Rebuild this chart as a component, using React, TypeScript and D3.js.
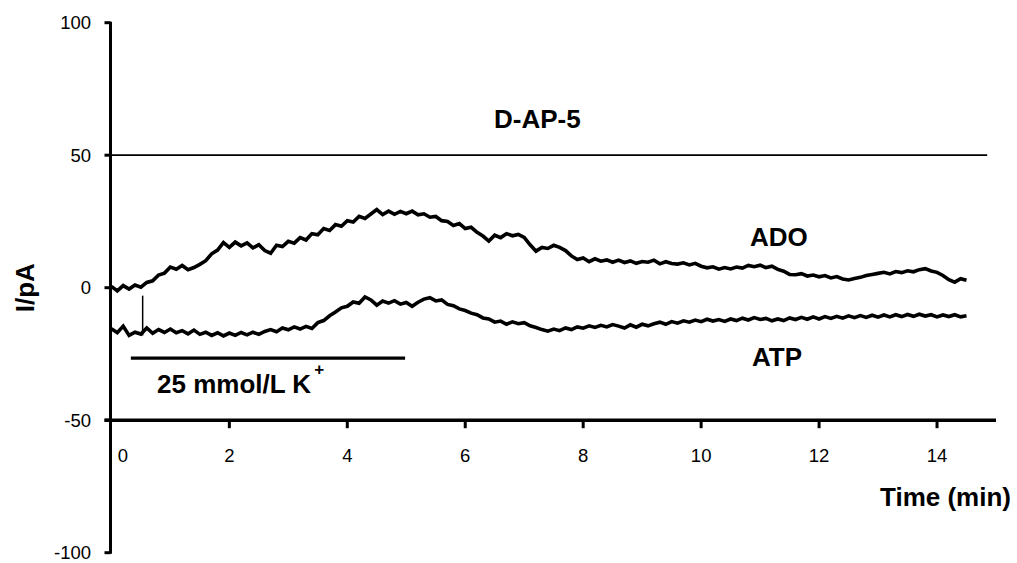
import React from "react";
import * as d3 from "d3";

// ---- data ----
const sampleStep = 0.1; // min
const adoValues = [
  0.5, -1.2, 0.8, -0.5, 1.0, 0.2, 2.0, 2.6, 4.8, 5.5,
  7.8, 7.0, 8.4, 6.8, 7.6, 8.8, 10.2, 12.8, 14.2, 17.0,
  15.2, 17.2, 15.8, 16.9, 15.0, 16.2, 14.0, 13.0, 16.0, 15.5,
  17.5, 16.8, 18.9, 18.0, 20.4, 20.0, 22.3, 21.6, 23.8, 23.2,
  25.3, 24.8, 26.9, 26.1, 27.8, 29.5, 27.6, 28.9, 27.7, 28.8,
  27.9, 28.9, 27.5, 27.9, 26.6, 26.9, 25.3, 25.0, 23.5, 24.2,
  22.3, 22.8, 20.9, 19.5, 17.6, 19.8, 18.9, 20.4, 19.6, 20.1,
  19.0, 16.2, 13.8, 15.2, 14.8, 16.0, 15.2, 14.0, 12.0, 10.6,
  11.2, 9.8, 10.9, 10.0, 10.5, 9.6, 10.4, 9.5, 10.1, 9.2,
  9.9, 9.6, 10.4, 9.0, 9.8, 9.1, 8.9, 9.4, 8.6, 9.2,
  8.1, 7.5, 7.9, 7.0, 7.6, 7.1, 7.8, 7.4, 8.4, 7.9,
  8.5, 7.6, 8.1, 6.9, 6.2, 5.0, 4.9, 5.3, 4.4, 4.8,
  4.1, 4.6, 3.7, 4.2, 3.3, 2.9, 3.5, 3.9, 4.6, 5.0,
  5.4, 5.8, 5.2, 6.1, 5.7, 6.4, 6.0, 6.8, 7.2, 6.3,
  5.8, 4.6, 3.0, 2.1, 3.4, 2.8,
];
const atpValues = [
  -15.5, -17.0, -14.5, -18.0, -16.8, -17.5, -15.2, -17.2, -15.8, -16.9,
  -15.6, -17.0, -16.2, -17.4, -16.0, -17.6, -16.8, -18.0, -17.0, -18.2,
  -17.1, -18.0, -16.9, -17.8, -16.8, -17.6, -16.5, -15.8, -16.6, -15.2,
  -15.9, -14.8, -15.6, -14.6, -15.4, -13.2, -12.4, -10.6, -9.2, -7.6,
  -7.0, -5.4, -5.9, -3.5, -4.6, -6.6, -5.0, -5.8, -4.9, -6.2,
  -5.6, -7.0, -5.5, -4.3, -3.8, -5.0, -4.6, -6.3, -6.8, -8.0,
  -8.6, -9.6, -10.2, -11.4, -11.8, -13.0, -12.6, -13.8, -12.9, -13.6,
  -13.2, -14.4, -15.0, -15.8, -16.4, -15.6, -16.2, -15.2, -15.8, -14.8,
  -15.3, -14.4, -15.0, -14.2, -14.8, -13.9, -14.5, -15.2, -14.0, -14.9,
  -13.8, -14.4, -13.6, -13.0, -13.8, -12.8, -13.4, -12.5, -13.0, -12.2,
  -12.8, -11.9, -12.6, -12.0, -12.7, -11.8, -12.4, -11.5, -12.2, -11.3,
  -12.0, -11.6, -12.5, -11.8, -12.4, -11.4, -12.0, -11.2, -11.9, -11.0,
  -11.8, -10.9, -11.6, -10.8, -11.5, -10.6, -11.3, -10.5, -11.2, -10.4,
  -11.1, -10.3, -11.0, -10.2, -10.9, -10.1, -10.8, -10.0, -10.7, -10.2,
  -11.0, -10.3, -10.9, -10.2, -11.0, -10.6,
];
const atpArtifactTime = [0.53, 0.53];
const atpArtifactValues = [-18, -3];
const dap5Time = [0, 14.85];
const dap5Values = [50, 50];
const kBarTime = [0.33, 4.98];
const kBarValues = [-26.6, -26.6];
const xTicks = [0, 2, 4, 6, 8, 10, 12, 14];
const yTicks = [-100, -50, 0, 50, 100];

const W = 1017;
const H = 563;
const FONT = "Arial, 'Liberation Sans', sans-serif";

export default function App() {
  const x = d3.scaleLinear().domain([0, 15]).range([111.4, 996]);
  const y = d3.scaleLinear().domain([-100, 100]).range([552.7, 22.7]);
  const axisX = x(0) - 0.9;
  const axisY = y(-50);

  const series = (vals: number[]) =>
    vals.map((v, i) => [i * sampleStep, v] as [number, number]);
  const pairs = (t: number[], v: number[]) =>
    t.map((ti, i) => [ti, v[i]] as [number, number]);

  const line = d3
    .line<[number, number]>()
    .x((d) => x(d[0]))
    .y((d) => y(d[1]))
    .curve(d3.curveLinear);

  return (
    <svg
      width={W}
      height={H}
      style={{ position: "absolute", left: 0, top: 0, background: "#fff" }}
      fontFamily={FONT}
    >
      <rect x={0} y={0} width={W} height={H} fill="#fff" />

      {/* D-AP-5 baseline */}
      <path d={line(pairs(dap5Time, dap5Values)) || ""} stroke="#000" strokeWidth={1.8} fill="none" />

      {/* traces */}
      <path d={line(series(adoValues)) || ""} stroke="#000" strokeWidth={3.6} fill="none" strokeLinejoin="miter" />
      <path d={line(series(atpValues)) || ""} stroke="#000" strokeWidth={3.6} fill="none" strokeLinejoin="miter" />
      <path d={line(pairs(atpArtifactTime, atpArtifactValues)) || ""} stroke="#000" strokeWidth={1.5} fill="none" />

      {/* K+ application bar */}
      <path d={line(pairs(kBarTime, kBarValues)) || ""} stroke="#000" strokeWidth={3.2} fill="none" />

      {/* y axis */}
      <line x1={axisX} x2={axisX} y1={y(100) - 1} y2={y(-100) + 1} stroke="#000" strokeWidth={3} />
      {yTicks.map((t) => (
        <g key={"yt" + t}>
          <line x1={axisX - 6} x2={axisX} y1={y(t)} y2={y(t)} stroke="#000" strokeWidth={3} />
          <text x={91} y={y(t)} dy="0.35em" textAnchor="end" fontSize={18.5} fill="#000">
            {t}
          </text>
        </g>
      ))}

      {/* x axis */}
      <line x1={axisX - 6} x2={x(15)} y1={axisY} y2={axisY} stroke="#000" strokeWidth={3.5} />
      {xTicks.map((t) => (
        <g key={"xt" + t}>
          {t !== 0 && (
            <line x1={x(t)} x2={x(t)} y1={axisY} y2={axisY + 8} stroke="#000" strokeWidth={3} />
          )}
          <text
            x={x(t) + (t === 0 ? 11.5 : 0)}
            y={461.5}
            textAnchor="middle"
            fontSize={18.5}
            fill="#000"
          >
            {t}
          </text>
        </g>
      ))}

      {/* axis titles */}
      <text
        transform={`translate(34, ${y(0)}) rotate(-90)`}
        textAnchor="middle"
        fontSize={26}
        fontWeight="bold"
        fill="#000"
      >
        I/pA
      </text>
      <text x={880} y={506} fontSize={26} fontWeight="bold" fill="#000">
        Time (min)
      </text>

      {/* annotations */}
      <text x={494} y={128} fontSize={26} fontWeight="bold" fill="#000">
        D-AP-5
      </text>
      <text x={750} y={246} fontSize={26} fontWeight="bold" fill="#000">
        ADO
      </text>
      <text x={752} y={366} fontSize={26} fontWeight="bold" fill="#000">
        ATP
      </text>
      <text x={157} y={393} fontSize={26} fontWeight="bold" fill="#000">
        25 mmol/L K
        <tspan dx={3} dy={-18} fontSize={17}>
          +
        </tspan>
      </text>
    </svg>
  );
}
